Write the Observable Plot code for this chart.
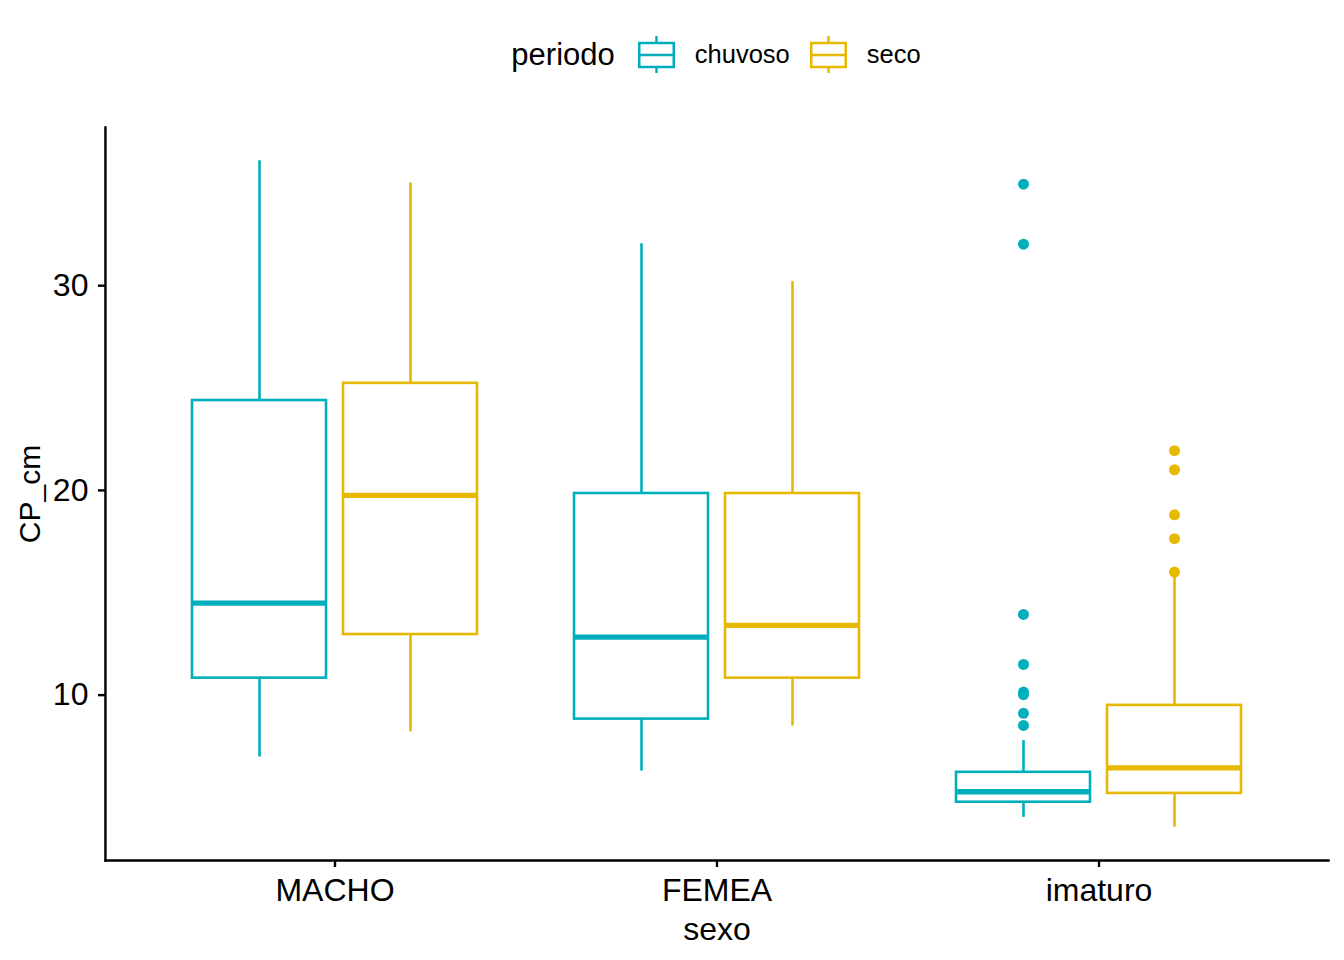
<!DOCTYPE html>
<html><head><meta charset="utf-8">
<script src="https://cdn.jsdelivr.net/npm/d3@7"></script>
<script src="https://cdn.jsdelivr.net/npm/@observablehq/plot@0.6"></script>
<style>
body{margin:0;background:#fff;font-family:"Liberation Sans",Arial,sans-serif;}
#legend{position:relative;height:100px;width:1344px;}
#legend .inner{position:absolute;left:104px;width:1224px;top:36px;height:37px;display:flex;justify-content:center;align-items:center;color:#000;}
#legend .title{font-size:31px;margin-right:23px;}
#legend .lab{font-size:25.5px;margin-left:20px;}
#legend .lab + svg{margin-left:20px;}
#legend svg{display:block;}
</style></head><body>
<div id="legend"></div>
<div id="chart"></div>
<script>
// categories
const sexo = ["MACHO", "FEMEA", "imaturo"];
const periodo = ["chuvoso", "seco"];
const colors = ["#00AFBB", "#E7B800"];
const yTicks = [10, 20, 30];

// box summaries (one entry per sexo x periodo)
const boxSexo    = ["MACHO", "MACHO", "FEMEA", "FEMEA", "imaturo", "imaturo"];
const boxPeriodo = ["chuvoso", "seco", "chuvoso", "seco", "chuvoso", "seco"];
const lower  = [6.98, 8.20, 6.29, 8.49, 4.03, 3.55];
const q1     = [10.83, 12.96, 8.83, 10.83, 4.77, 5.20];
const median = [14.49, 19.76, 12.83, 13.41, 5.28, 6.45];
const q3     = [24.39, 25.23, 19.85, 19.85, 6.23, 9.50];
const upper  = [36.10, 35.02, 32.05, 30.20, 7.78, 16.01];

// outliers
const outSexo    = ["imaturo","imaturo","imaturo","imaturo","imaturo","imaturo","imaturo","imaturo",
                    "imaturo","imaturo","imaturo","imaturo","imaturo"];
const outPeriodo = ["chuvoso","chuvoso","chuvoso","chuvoso","chuvoso","chuvoso","chuvoso","chuvoso",
                    "seco","seco","seco","seco","seco"];
const outValue   = [34.96, 32.03, 13.94, 11.50, 10.15, 10.02, 9.11, 8.52,
                    21.94, 21.01, 18.81, 17.64, 16.01];

const boxes = boxSexo.map((s, i) => ({sexo: s, periodo: boxPeriodo[i], lower: lower[i], q1: q1[i], median: median[i], q3: q3[i], upper: upper[i]}));
const outliers = outSexo.map((s, i) => ({sexo: s, periodo: outPeriodo[i], value: outValue[i]}));

// legend
const leg = document.createElement("div");
leg.className = "inner";
let html = `<span class="title">periodo</span>`;
periodo.forEach((p, i) => {
  const c = colors[i];
  html += `<svg width="37" height="37" viewBox="0 0 37 37">
    <line x1="18.5" x2="18.5" y1="0" y2="37" stroke="${c}" stroke-width="2.5"/>
    <rect x="1.25" y="7" width="34.5" height="24" fill="white" stroke="${c}" stroke-width="2.5"/>
    <line x1="1" x2="36" y1="19" y2="19" stroke="${c}" stroke-width="2.5"/>
  </svg><span class="lab">${p}</span>`;
});
leg.innerHTML = html;
document.getElementById("legend").appendChild(leg);

const W = 1344, ML = 104, MR = 16;
const fxPad = {inner: 0.25, outer: 0.225};
// offset of the first/last facet from the frame edges (to put the axis lines at the frame edges)
const fxBand = d3.scaleBand(sexo, [ML, W - MR]).paddingInner(fxPad.inner).paddingOuter(fxPad.outer);
const axisShift = fxBand(sexo[0]) - ML;

const allVals = [...lower, ...upper, ...outValue];
const lo = d3.min(allVals), hi = d3.max(allVals), pad = (hi - lo) * 0.05;

const SW = 2.6;
const plot = Plot.plot({
  width: W, height: 860,
  marginLeft: ML, marginRight: MR, marginTop: 27, marginBottom: 100,
  style: {fontFamily: "'Liberation Sans', Arial, sans-serif", fontSize: "32px", color: "black", background: "white"},
  fx: {domain: sexo, paddingInner: fxPad.inner, paddingOuter: fxPad.outer},
  x: {domain: periodo, paddingInner: 0.111, paddingOuter: 0, axis: null},
  y: {domain: [lo - pad, hi + pad]},
  color: {domain: periodo, range: colors},
  marks: [
    Plot.frame({anchor: "bottom", facet: "super", stroke: "black", strokeWidth: 2.4, insetLeft: -axisShift, insetRight: -axisShift}),
    Plot.frame({anchor: "left", facet: "super", stroke: "black", strokeWidth: 2.4, dx: -axisShift}),
    Plot.axisY({ticks: yTicks, tickSize: 7, tickPadding: 10, strokeWidth: 2.4, fontSize: 32, dx: -axisShift,
      label: null}),
    Plot.axisY({ticks: [], label: "CP_cm", labelAnchor: "center", labelArrow: "none", fontSize: 30,
      labelOffset: 87 + axisShift}),
    Plot.axisFx({anchor: "bottom", tickSize: 7, tickPadding: 11, strokeWidth: 2.4, fontSize: 32,
      label: "sexo", labelAnchor: "center", labelArrow: "none", labelOffset: 79}),
    Plot.ruleX(boxes, {fx: "sexo", x: "periodo", y1: "q3", y2: "upper", stroke: "periodo", strokeWidth: SW}),
    Plot.ruleX(boxes, {fx: "sexo", x: "periodo", y1: "lower", y2: "q1", stroke: "periodo", strokeWidth: SW}),
    Plot.barY(boxes, {fx: "sexo", x: "periodo", y1: "q1", y2: "q3", fill: "white", stroke: "periodo", strokeWidth: SW}),
    Plot.tickY(boxes, {fx: "sexo", x: "periodo", y: "median", stroke: "periodo", strokeWidth: 5.3}),
    Plot.dot(outliers, {fx: "sexo", x: "periodo", y: "value", fill: "periodo", r: 5.5, stroke: "none"})
  ]
});
document.getElementById("chart").appendChild(plot);
</script>
</body></html>
